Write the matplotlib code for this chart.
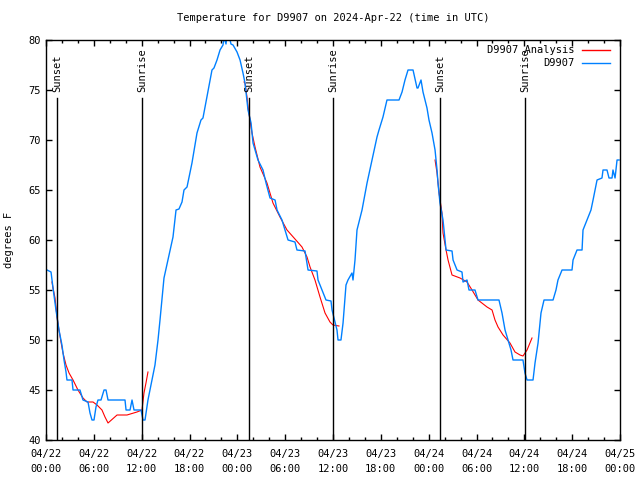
import numpy as np
import pandas as pd
import matplotlib
matplotlib.use("Agg")
import matplotlib.pyplot as plt
import matplotlib.dates as mdates

start = pd.Timestamp("2024-04-22 00:00")

# D9907 observations (hours after start, degrees F)
obs_hours = [0.13, 0.63, 0.88, 1.25, 1.63, 2.0, 2.26, 2.51, 2.63, 3.26, 3.39, 4.26, 4.64, 5.27,
             5.52, 5.77, 6.02, 6.27, 6.52, 6.9, 7.28, 7.53, 7.78, 9.91, 10.04, 10.54, 10.79,
             11.04, 11.92, 12.17, 12.42, 12.79, 13.17, 13.67, 14.05, 14.3, 14.8, 15.3, 15.93,
             16.31, 16.68, 17.06, 17.31, 17.69, 18.31, 18.94, 19.44, 19.69, 20.07, 20.82,
             21.07, 21.45, 21.83, 22.2, 22.33, 22.58, 22.7, 22.95, 23.2, 23.46, 23.96, 24.34,
             24.71, 24.96, 25.34, 25.72, 25.97, 26.22, 26.59, 27.22, 27.6, 28.1, 28.73, 28.98,
             29.6, 29.98, 30.36, 31.23, 31.48, 32.49, 32.87, 33.99, 34.12, 34.62, 35.12, 35.75,
             35.88, 36.13, 36.5, 36.63, 37.0, 37.26, 37.63, 37.88, 38.38, 38.51, 38.76, 39.01,
             39.64, 40.27, 40.89, 41.52, 41.77, 42.27, 42.77, 44.28, 44.66, 45.03, 45.41,
             46.04, 46.54, 46.66, 47.04, 47.29, 47.79, 48.04, 48.42, 48.8, 49.05, 49.17,
             49.42, 49.8, 50.18, 50.93, 51.06, 51.56, 52.18, 52.31, 52.81, 53.06, 53.81,
             54.19, 56.82, 57.2, 57.58, 57.95, 58.33, 58.58, 59.83, 60.08, 60.34, 61.09,
             61.34, 61.72, 62.09, 62.47, 63.6, 63.97, 64.22, 64.73, 65.98, 66.11, 66.61,
             67.24, 67.36, 67.86, 68.36, 68.62, 69.12, 69.74, 69.87, 70.37, 70.62, 71.0,
             71.12, 71.38, 71.63, 71.88]
obs_temp = [57, 56.8, 55.2, 53, 51, 49.5, 48, 46.8, 46, 46, 45, 45, 44, 43.8,
            42.7, 42, 42, 43.3, 44, 44, 45, 45, 44, 44, 43, 43, 44,
            43, 43, 42, 42, 44, 45.5, 47.5, 50, 52, 56.2, 58, 60.3,
            63, 63.1, 63.8, 65, 65.3, 67.7, 70.7, 72, 72.2, 73.8, 77,
            77.2, 78, 79, 79.5, 80.3, 79.6, 80.5, 80.5, 79.6, 79.5, 78.8, 78,
            76.7, 75.7, 73, 71.7, 69.7, 69, 68, 67, 65.7, 64.2, 64, 63,
            62, 61, 60, 59.8, 59, 58.9, 57, 56.9, 56, 55, 54, 53.9,
            53, 52.2, 51, 50, 50, 51.7, 55.5, 56, 56.7, 56, 58, 61,
            63, 65.7, 68, 70.3, 71, 72.3, 74, 74, 74.8, 76, 77,
            77, 75.2, 75.2, 76, 74.8, 73.2, 72, 70.7, 69, 67, 65.7,
            63.7, 62, 59, 58.9, 58, 57, 56.8, 55.8, 56, 55, 55,
            54, 54, 52.7, 51, 50, 49, 48, 48, 46.7, 46, 46,
            47.7, 49.7, 52.7, 54, 54, 55, 56, 57, 57, 58, 59,
            59, 61, 62, 63, 64, 66, 66.2, 67, 67, 66.2, 66.2,
            67, 66.2, 68, 68]

# D9907 analysis (three nightly segments, NaN = gap)
ana_hours = [0.75, 0.88, 1.13, 1.38, 1.63, 1.88, 2.13, 2.51, 2.89, 3.39, 4.01, 4.64, 5.14,
             5.9, 6.4, 7.02, 7.4, 7.78, 8.91, 10.16, 11.41, 12.04, 12.29, 12.54, 12.79,
             np.nan,
             24.84, 24.96, 25.21, 25.34, 25.84, 26.22, 26.84, 27.72, 28.47, 29.35, 30.23,
             31.23, 32.11, 32.74, 33.12, 33.74, 34.37, 35.0, 35.62, 36.0, 36.75,
             np.nan,
             48.8, 49.05, 49.3, 49.67, 49.8, 50.18, 50.43, 50.93, 51.93, 52.81, 53.44,
             54.19, 55.32, 55.95, 56.32, 56.7, 57.33, 58.2, 58.83, 59.46, 59.83, 60.34, 60.96]
ana_temp = [55.8, 55.2, 54.2, 52.3, 51, 49.8, 48.7, 47.5, 46.7, 46, 45, 44.2, 43.8,
            43.8, 43.5, 43, 42.3, 41.7, 42.5, 42.5, 42.8, 43, 44.7, 45.7, 46.8,
            np.nan,
            75.8, 75.7, 74.3, 73.3, 70.7, 69.3, 67.3, 65.7, 63.7, 62.3, 61,
            60.1, 59.3, 58.3, 57.3, 56, 54.3, 52.7, 51.8, 51.5, 51.4,
            np.nan,
            68, 66.7, 64.7, 62.7, 60.7, 59, 58, 56.5, 56.2, 55.8, 55,
            54, 53.3, 53, 52, 51.3, 50.5, 49.7, 48.8, 48.5, 48.4, 49, 50.2]

sun_labels = ["Sunset", "Sunrise", "Sunset", "Sunrise", "Sunset", "Sunrise"]
sun_hours = [1.38, 12.04, 25.47, 36.0, 49.4, 60.1]


def to_time(hours):
    return start + pd.to_timedelta(np.asarray(hours, dtype=float), unit="h")


plt.rcParams['font.family'] = ['DejaVu Sans Mono']
plt.rcParams['font.size'] = 7.5

fig = plt.figure(figsize=(6.4, 4.8), dpi=100)
ax = fig.add_axes([46 / 640, 40 / 480, 574 / 640, 400 / 480])

ax.plot(to_time(ana_hours), ana_temp, color='#ff0000', lw=0.8)
ax.plot(to_time(obs_hours), obs_temp, color='#0080ff', lw=1.0)

for name, h in zip(sun_labels, to_time(sun_hours)):
    ax.plot([h, h], [40, 74.2], color='black', lw=1.0)
    ax.text(h, 74.8, name, rotation=90, ha='center', va='bottom')

ax.set_xlim(start, start + pd.Timedelta(hours=72))
ax.set_ylim(40, 80)
ax.xaxis.set_major_locator(mdates.HourLocator(byhour=range(0, 24, 6)))
ax.xaxis.set_minor_locator(mdates.HourLocator(byhour=range(0, 24, 2)))
ax.xaxis.set_major_formatter(mdates.DateFormatter('%m/%d\n%H:%M'))
ax.set_yticks(range(40, 81, 5))
ax.tick_params(which='both', direction='in', top=True, right=True, width=1)
ax.tick_params(which='major', length=4.5, pad=4)
ax.tick_params(axis='x', which='major', pad=6.5)
ax.tick_params(which='minor', length=2.5)
for s in ax.spines.values():
    s.set_linewidth(1.0)

ax.set_title('Temperature for D9907 on 2024-Apr-22 (time in UTC)', fontsize=7.5, pad=14)
ax.set_ylabel('degrees F', labelpad=10)

# legend, gnuplot style: text right-aligned, sample line to its right
ax.text(0.9216, 0.975, 'D9907 Analysis', transform=ax.transAxes, ha='right', va='center')
ax.plot([0.934, 0.983], [0.975, 0.975], transform=ax.transAxes, color='#ff0000', lw=1.0)
ax.text(0.9216, 0.9425, 'D9907', transform=ax.transAxes, ha='right', va='center')
ax.plot([0.934, 0.983], [0.9425, 0.9425], transform=ax.transAxes, color='#0080ff', lw=1.0)

fig.canvas.draw()
for lbl in ax.get_xticklabels():
    lbl.set_linespacing(1.65)

fig.savefig('out.png', dpi=100)
